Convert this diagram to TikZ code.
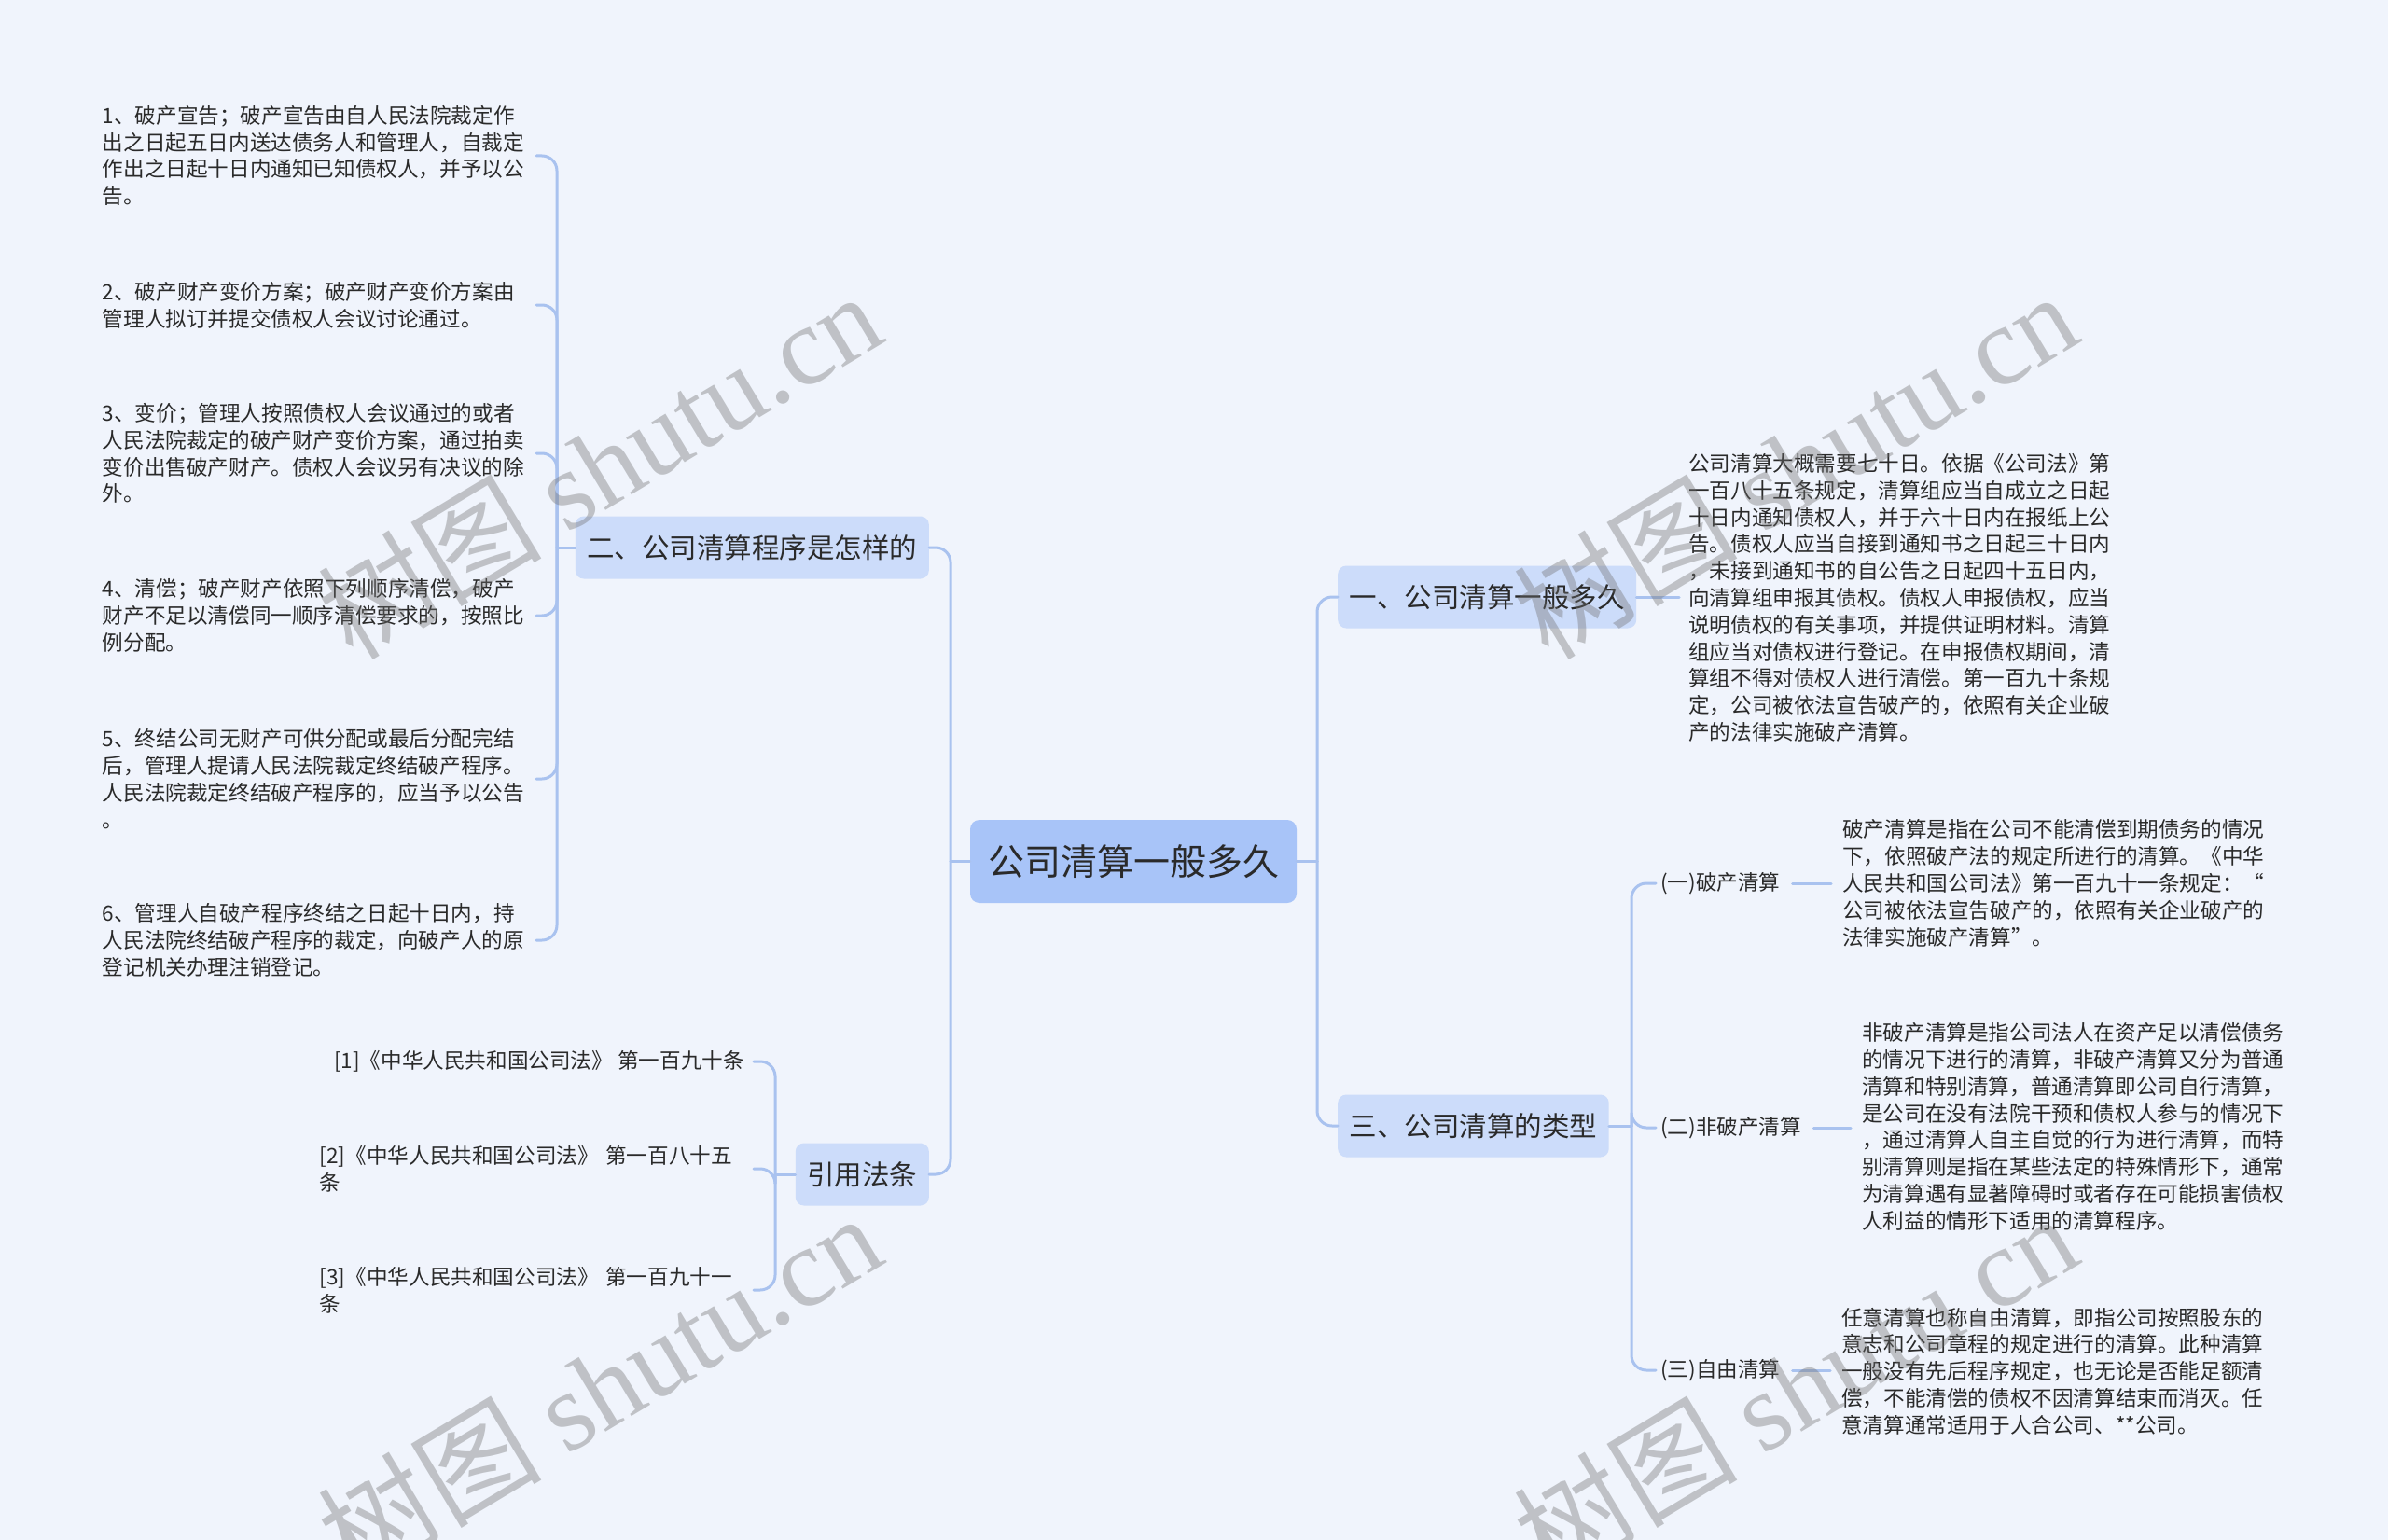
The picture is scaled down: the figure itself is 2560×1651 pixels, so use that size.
\documentclass[tikz,border=0pt]{standalone}
\usepackage{fontspec}
\setmainfont{Noto Sans CJK SC}
\newfontfamily\wmlatin{Liberation Serif}
\usetikzlibrary{calc}
\definecolor{bgc}{HTML}{F0F4FC}
\definecolor{rootfill}{HTML}{A8C4F8}
\definecolor{lonefill}{HTML}{CCDCFA}
\definecolor{linec}{HTML}{A9C2EF}
\definecolor{txt}{HTML}{2A2A2A}
\definecolor{wmc}{HTML}{707070}
\begin{document}
\begin{tikzpicture}[x=1pt,y=-1pt,
  conn/.style={draw=linec, line width=3pt, line cap=round},
  rc/.style={conn, rounded corners=16pt},
  rootbox/.style={fill=rootfill, rounded corners=10pt, minimum width=350pt, minimum height=89pt, inner sep=0pt, text=txt, font=\fontsize{39}{46}\selectfont},
  lonebox/.style={fill=lonefill, rounded corners=9pt, minimum height=67pt, inner xsep=12.5pt, inner ysep=0pt, text=txt, font=\fontsize{29.5}{35}\selectfont},
  desc/.style={align=left, inner xsep=10pt, inner ysep=0pt, text=txt, font=\fontsize{22.6}{28.8}\selectfont},
  lbl/.style={inner xsep=5pt, inner ysep=2pt, text=txt, font=\fontsize{22.6}{28.8}\selectfont},
  wm/.style={rotate=31, text=wmc, opacity=0.38, inner sep=0pt, font=\fontsize{120}{140}\selectfont}
]
\fill[bgc] (0,0) rectangle (2560,1651);
\useasboundingbox (0,0) rectangle (2560,1651);

% main nodes
\node[rootbox] (root) at (1215,923.5) {公司清算一般多久};
\node[lonebox, anchor=west] (n1) at (1434,640) {一、公司清算一般多久};
\node[lonebox, anchor=west] (n3) at (1434,1207) {三、公司清算的类型};
\node[lonebox, anchor=east] (n2) at (996,587) {二、公司清算程序是怎样的};
\node[lonebox, anchor=east] (n4) at (996,1259) {引用法条};

\coordinate (jR) at (1412,923.5);
\coordinate (jL) at (1019,923.5);
\draw[conn] (root.east) -- (jR);
\draw[rc] (jR) |- (n1.west);
\draw[rc] (jR) |- (n3.west);
\draw[conn] (root.west) -- (jL);
\draw[rc] (jL) |- (n2.east);
\draw[rc] (jL) |- (n4.east);

% branch one
\node[desc, anchor=west] (d1) at (1800,641) {公司清算大概需要七十日。依据《公司法》第\\
一百八十五条规定，清算组应当自成立之日起\\
十日内通知债权人，并于六十日内在报纸上公\\
告。债权人应当自接到通知书之日起三十日内\\
，未接到通知书的自公告之日起四十五日内，\\
向清算组申报其债权。债权人申报债权，应当\\
说明债权的有关事项，并提供证明材料。清算\\
组应当对债权进行登记。在申报债权期间，清\\
算组不得对债权人进行清偿。第一百九十条规\\
定，公司被依法宣告破产的，依照有关企业破\\
产的法律实施破产清算。};
\draw[conn] (n1.east) -- (n1.east -| d1.west);

% branch three
\coordinate (j3) at (1749,1207);
\draw[conn] (n3.east) -- (j3);
\node[lbl, anchor=west] (s1) at (1775,947) {(一)破产清算};
\node[lbl, anchor=west] (s2) at (1775,1209) {(二)非破产清算};
\node[lbl, anchor=west] (s3) at (1775,1469) {(三)自由清算};
\draw[rc] (j3) |- (s1.west);
\draw[rc] (j3) |- (s2.west);
\draw[rc] (j3) |- (s3.west);
\node[desc, anchor=west, inner xsep=12pt] (e1) at (1963,947) {破产清算是指在公司不能清偿到期债务的情况\\
下，依照破产法的规定所进行的清算。《中华\\
人民共和国公司法》第一百九十一条规定：“\\
公司被依法宣告破产的，依照有关企业破产的\\
法律实施破产清算”。};
\node[desc, anchor=west, inner xsep=12pt] (e2) at (1984,1208) {非破产清算是指公司法人在资产足以清偿债务\\
的情况下进行的清算，非破产清算又分为普通\\
清算和特别清算，普通清算即公司自行清算，\\
是公司在没有法院干预和债权人参与的情况下\\
，通过清算人自主自觉的行为进行清算，而特\\
别清算则是指在某些法定的特殊情形下，通常\\
为清算遇有显著障碍时或者存在可能损害债权\\
人利益的情形下适用的清算程序。};
\node[desc, anchor=west, inner xsep=12pt] (e3) at (1962,1470) {任意清算也称自由清算，即指公司按照股东的\\
意志和公司章程的规定进行的清算。此种清算\\
一般没有先后程序规定，也无论是否能足额清\\
偿，不能清偿的债权不因清算结束而消灭。任\\
意清算通常适用于人合公司、**公司。};
\draw[conn, shorten <=8pt] (s1.east) -- (s1.east -| e1.west);
\draw[conn, shorten <=8pt] (s2.east) -- (s2.east -| e2.west);
\draw[conn, shorten <=8pt] (s3.east) -- (s3.east -| e3.west);

% branch two
\coordinate (j2) at (597,587);
\draw[conn] (n2.west) -- (j2);
\node[desc, anchor=east, text width=455pt] (i1) at (575,167) {1、破产宣告；破产宣告由自人民法院裁定作\\
出之日起五日内送达债务人和管理人，自裁定\\
作出之日起十日内通知已知债权人，并予以公\\
告。};
\node[desc, anchor=east, text width=455pt] (i2) at (575,327) {2、破产财产变价方案；破产财产变价方案由\\
管理人拟订并提交债权人会议讨论通过。};
\node[desc, anchor=east, text width=455pt] (i3) at (575,486) {3、变价；管理人按照债权人会议通过的或者\\
人民法院裁定的破产财产变价方案，通过拍卖\\
变价出售破产财产。债权人会议另有决议的除\\
外。};
\node[desc, anchor=east, text width=455pt] (i4) at (575,660) {4、清偿；破产财产依照下列顺序清偿，破产\\
财产不足以清偿同一顺序清偿要求的，按照比\\
例分配。};
\node[desc, anchor=east, text width=455pt] (i5) at (575,835) {5、终结公司无财产可供分配或最后分配完结\\
后，管理人提请人民法院裁定终结破产程序。\\
人民法院裁定终结破产程序的，应当予以公告\\
。};
\node[desc, anchor=east, text width=455pt] (i6) at (575,1008) {6、管理人自破产程序终结之日起十日内，持\\
人民法院终结破产程序的裁定，向破产人的原\\
登记机关办理注销登记。};
\foreach \n in {i1,i2,i3,i4,i5,i6} {\draw[rc] (j2) |- (\n.east);}

% branch four
\coordinate (j4) at (831,1259);
\draw[conn] (n4.west) -- (j4);
\node[desc, anchor=east] (r1) at (808,1138) {[1]《中华人民共和国公司法》~第一百九十条};
\node[desc, anchor=east, text width=455pt] (r2) at (808,1253) {[2]《中华人民共和国公司法》~第一百八十五\\条};
\node[desc, anchor=east, text width=455pt] (r3) at (808,1383) {[3]《中华人民共和国公司法》~第一百九十一\\条};
\foreach \n in {r1,r2,r3} {\draw[rc] (j4) |- (\n.east);}

% watermarks
\node[wm] (w1) at (642,498) {树图~{\wmlatin shutu.cn}};
\node[wm] (w2) at (1924,498) {树图~{\wmlatin shutu.cn}};
\node[wm] (w3) at (642,1486) {树图~{\wmlatin shutu.cn}};
\node[wm] (w4) at (1924,1486) {树图~{\wmlatin shutu.cn}};
\end{tikzpicture}
\end{document}
